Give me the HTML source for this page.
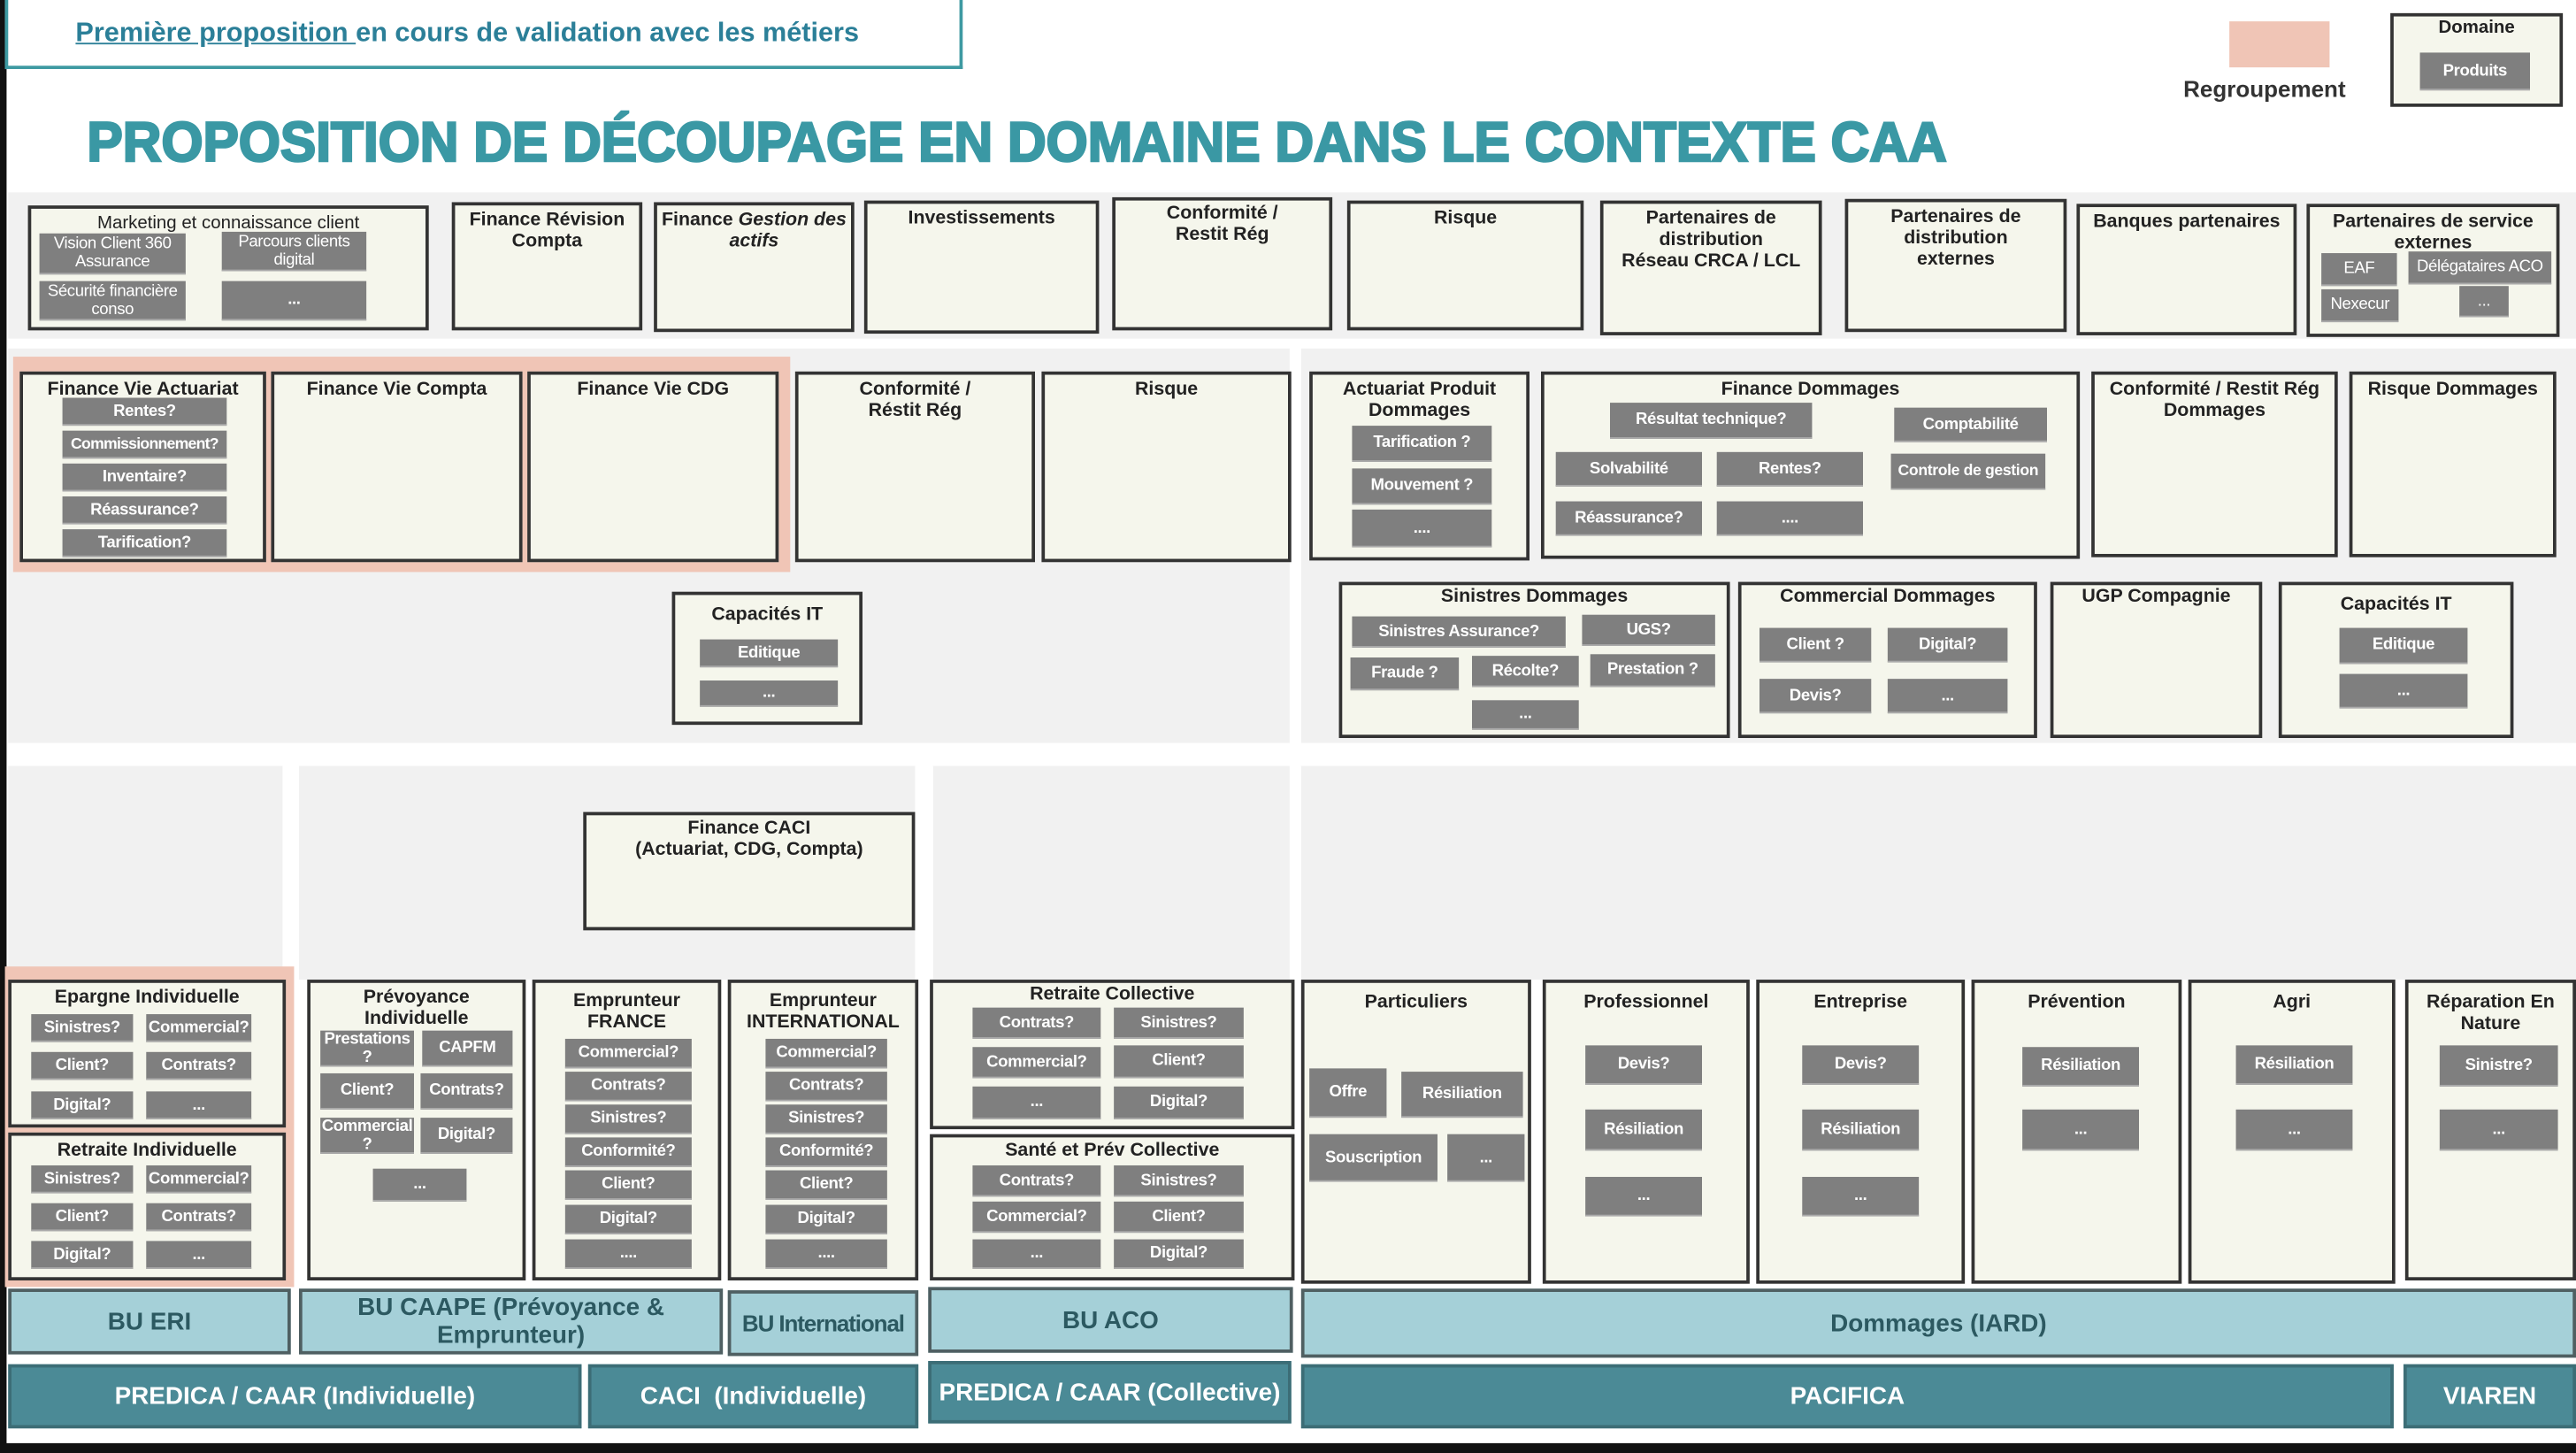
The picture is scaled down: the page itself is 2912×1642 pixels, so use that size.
<!DOCTYPE html>
<html><head><meta charset="utf-8">
<style>
html,body{margin:0;padding:0;background:#fff;width:2912px;height:1642px;overflow:hidden}
#w{position:absolute;left:0;top:0;width:1568px;height:884px;transform:scale(1.85714,1.8575);transform-origin:0 0;font-family:"Liberation Sans",Arial,sans-serif;background:#fff}
#w div{position:absolute;box-sizing:border-box}
.p{background:#f1f1f1}
.b{border:2px solid #333;background:#f5f6ec;text-align:center;font-weight:bold;font-size:11.5px;line-height:13px;color:#222;padding-top:3px}
.c{background:#7f7f7f;color:#fff;font-size:10px;line-height:11px;display:flex;align-items:center;justify-content:center;text-align:center;font-weight:bold;border-bottom:1px solid #aaa;white-space:nowrap;letter-spacing:-0.2px}
.bu{background:#a5d0d8;border:2px solid #4f5f62;color:#2c5961;font-weight:bold;font-size:15px;line-height:17px;display:flex;align-items:center;justify-content:center;text-align:center}
.en{background:#4b8a96;border:2px solid #3c6d76;color:#fff;font-weight:bold;font-size:15px;display:flex;align-items:center;justify-content:center}
.sal{background:#f0c5b6}
</style></head><body><div id="w">
<div style="left:0;top:0;width:4px;height:884px;background:#111"></div>
<div style="left:0;top:878px;width:1568px;height:6px;background:#111"></div>

<div style="left:3px;top:0;width:583px;height:42px;border:2px solid #3e9aa2;border-top:none;background:#fff"></div>
<div style="left:46px;top:11px;font-size:16.5px;font-weight:bold;color:#2b7f98;white-space:nowrap"><span style="text-decoration:underline">Première proposition </span>en cours de validation avec les métiers</div>
<svg style="position:absolute;left:0;top:60px" width="1250" height="50"><text x="53" y="38" font-family="Liberation Sans, Arial, sans-serif" font-weight="bold" font-size="34" fill="#3a98a4" stroke="#3a98a4" stroke-width="1.4" textLength="1132" lengthAdjust="spacingAndGlyphs">PROPOSITION DE DÉCOUPAGE EN DOMAINE DANS LE CONTEXTE CAA</text></svg>

<div class="sal" style="left:1357px;top:13px;width:61px;height:28px"></div>
<div style="left:1329px;top:46px;font-size:14px;font-weight:bold;color:#333;white-space:nowrap">Regroupement</div>
<div class="b" style="left:1455px;top:8px;width:105px;height:57px;font-size:11px;padding-top:1px">Domaine</div>
<div class="c" style="left:1473px;top:32px;width:67px;height:23px">Produits</div>

<!-- top panel -->
<div class="p" style="left:5px;top:117px;width:1563px;height:89px"></div>
<div class="b" style="left:17px;top:125px;width:244px;height:76px;font-weight:normal;font-size:11px">Marketing et connaissance client</div>
<div class="c" style="left:24px;top:142px;width:89px;height:25px;font-weight:normal;white-space:normal">Vision Client 360 Assurance</div>
<div class="c" style="left:135px;top:141px;width:88px;height:24px;font-weight:normal;white-space:normal">Parcours clients digital</div>
<div class="c" style="left:24px;top:171px;width:89px;height:24px;font-weight:normal;white-space:normal">Sécurité financière conso</div>
<div class="c" style="left:135px;top:171px;width:88px;height:24px">...</div>
<div class="b" style="left:275px;top:123px;width:116px;height:78px">Finance Révision<br>Compta</div>
<div class="b" style="left:398px;top:123px;width:122px;height:79px">Finance <i>Gestion des actifs</i></div>
<div class="b" style="left:526px;top:122px;width:143px;height:81px">Investissements</div>
<div class="b" style="left:677px;top:120px;width:134px;height:81px;padding-top:2px">Conformité /<br>Restit Rég</div>
<div class="b" style="left:820px;top:122px;width:144px;height:79px">Risque</div>
<div class="b" style="left:974px;top:122px;width:135px;height:82px">Partenaires de<br>distribution<br>Réseau CRCA / LCL</div>
<div class="b" style="left:1123px;top:121px;width:135px;height:81px">Partenaires de<br>distribution<br>externes</div>
<div class="b" style="left:1264px;top:124px;width:134px;height:80px">Banques partenaires</div>
<div class="b" style="left:1404px;top:124px;width:154px;height:81px">Partenaires de service<br>externes</div>
<div class="c" style="left:1413px;top:154px;width:46px;height:20px;font-weight:normal">EAF</div>
<div class="c" style="left:1466px;top:153px;width:87px;height:20px;font-weight:normal">Délégataires ACO</div>
<div class="c" style="left:1413px;top:176px;width:47px;height:20px;font-weight:normal">Nexecur</div>
<div class="c" style="left:1497px;top:174px;width:30px;height:19px;font-weight:normal">...</div>

<!-- second panels -->
<div class="p" style="left:5px;top:212px;width:780px;height:240px"></div>
<div class="p" style="left:792px;top:212px;width:776px;height:240px"></div>
<div class="sal" style="left:8px;top:217px;width:473px;height:131px"></div>
<div class="b" style="left:12px;top:226px;width:150px;height:116px">Finance Vie Actuariat</div>
<div class="c" style="left:38px;top:242px;width:100px;height:17px">Rentes?</div>
<div class="c" style="left:38px;top:262px;width:100px;height:17px;font-size:9.5px;letter-spacing:-0.4px">Commissionnement?</div>
<div class="c" style="left:38px;top:282px;width:100px;height:17px">Inventaire?</div>
<div class="c" style="left:38px;top:302px;width:100px;height:17px">Réassurance?</div>
<div class="c" style="left:38px;top:322px;width:100px;height:17px">Tarification?</div>
<div class="b" style="left:165px;top:226px;width:153px;height:116px">Finance Vie Compta</div>
<div class="b" style="left:321px;top:226px;width:153px;height:116px">Finance Vie CDG</div>
<div class="b" style="left:484px;top:226px;width:146px;height:116px">Conformité /<br>Réstit Rég</div>
<div class="b" style="left:634px;top:226px;width:152px;height:116px">Risque</div>
<div class="b" style="left:409px;top:360px;width:116px;height:81px;padding-top:6px">Capacités IT</div>
<div class="c" style="left:426px;top:389px;width:84px;height:17px">Editique</div>
<div class="c" style="left:426px;top:414px;width:84px;height:16px">...</div>

<div class="b" style="left:797px;top:226px;width:134px;height:115px">Actuariat Produit<br>Dommages</div>
<div class="c" style="left:823px;top:259px;width:85px;height:22px">Tarification ?</div>
<div class="c" style="left:823px;top:285px;width:85px;height:22px">Mouvement ?</div>
<div class="c" style="left:823px;top:310px;width:85px;height:23px">....</div>
<div class="b" style="left:938px;top:226px;width:328px;height:114px">Finance Dommages</div>
<div class="c" style="left:980px;top:245px;width:123px;height:22px">Résultat technique?</div>
<div class="c" style="left:1153px;top:248px;width:93px;height:21px">Comptabilité</div>
<div class="c" style="left:947px;top:275px;width:89px;height:21px">Solvabilité</div>
<div class="c" style="left:1045px;top:275px;width:89px;height:21px">Rentes?</div>
<div class="c" style="left:1151px;top:276px;width:94px;height:22px;font-size:9.5px">Controle de gestion</div>
<div class="c" style="left:947px;top:305px;width:89px;height:21px">Réassurance?</div>
<div class="c" style="left:1045px;top:305px;width:89px;height:21px">....</div>
<div class="b" style="left:1273px;top:226px;width:150px;height:113px">Conformité / Restit Rég<br>Dommages</div>
<div class="b" style="left:1430px;top:226px;width:126px;height:113px">Risque Dommages</div>
<div class="b" style="left:815px;top:354px;width:238px;height:95px;padding-top:1px">Sinistres Dommages</div>
<div class="c" style="left:823px;top:375px;width:130px;height:19px">Sinistres Assurance?</div>
<div class="c" style="left:963px;top:374px;width:81px;height:19px">UGS?</div>
<div class="c" style="left:822px;top:400px;width:66px;height:20px">Fraude ?</div>
<div class="c" style="left:896px;top:399px;width:65px;height:19px">Récolte?</div>
<div class="c" style="left:968px;top:398px;width:76px;height:20px">Prestation ?</div>
<div class="c" style="left:896px;top:426px;width:65px;height:18px">...</div>
<div class="b" style="left:1058px;top:354px;width:182px;height:95px;padding-top:1px">Commercial Dommages</div>
<div class="c" style="left:1071px;top:382px;width:68px;height:21px">Client ?</div>
<div class="c" style="left:1149px;top:382px;width:73px;height:21px">Digital?</div>
<div class="c" style="left:1071px;top:413px;width:68px;height:21px">Devis?</div>
<div class="c" style="left:1149px;top:413px;width:73px;height:21px">...</div>
<div class="b" style="left:1248px;top:354px;width:129px;height:95px;padding-top:1px">UGP Compagnie</div>
<div class="b" style="left:1387px;top:354px;width:143px;height:95px;padding-top:6px">Capacités IT</div>
<div class="c" style="left:1424px;top:382px;width:78px;height:22px">Editique</div>
<div class="c" style="left:1424px;top:410px;width:78px;height:21px">...</div>

<!-- bottom panels -->
<div class="p" style="left:5px;top:466px;width:167px;height:124px"></div>
<div class="p" style="left:182px;top:466px;width:375px;height:130px"></div>
<div class="p" style="left:568px;top:466px;width:217px;height:130px"></div>
<div class="p" style="left:792px;top:466px;width:776px;height:130px"></div>
<div class="b" style="left:355px;top:494px;width:202px;height:72px;padding-top:2px">Finance CACI<br>(Actuariat, CDG, Compta)</div>

<div class="sal" style="left:3px;top:588px;width:176px;height:195px"></div>
<div class="b" style="left:5px;top:596px;width:169px;height:90px">Epargne Individuelle</div>
<div class="c" style="left:19px;top:617px;width:62px;height:17px">Sinistres?</div>
<div class="c" style="left:89px;top:617px;width:64px;height:17px">Commercial?</div>
<div class="c" style="left:19px;top:640px;width:62px;height:17px">Client?</div>
<div class="c" style="left:89px;top:640px;width:64px;height:17px">Contrats?</div>
<div class="c" style="left:19px;top:664px;width:62px;height:17px">Digital?</div>
<div class="c" style="left:89px;top:664px;width:64px;height:17px">...</div>
<div class="b" style="left:5px;top:689px;width:169px;height:90px">Retraite Individuelle</div>
<div class="c" style="left:19px;top:709px;width:62px;height:17px">Sinistres?</div>
<div class="c" style="left:89px;top:709px;width:64px;height:17px">Commercial?</div>
<div class="c" style="left:19px;top:732px;width:62px;height:17px">Client?</div>
<div class="c" style="left:89px;top:732px;width:64px;height:17px">Contrats?</div>
<div class="c" style="left:19px;top:755px;width:62px;height:17px">Digital?</div>
<div class="c" style="left:89px;top:755px;width:64px;height:17px">...</div>

<div class="b" style="left:187px;top:596px;width:133px;height:183px">Prévoyance<br>Individuelle</div>
<div class="c" style="left:195px;top:627px;width:57px;height:22px;white-space:normal">Prestations ?</div>
<div class="c" style="left:257px;top:627px;width:55px;height:22px">CAPFM</div>
<div class="c" style="left:195px;top:653px;width:57px;height:22px">Client?</div>
<div class="c" style="left:256px;top:653px;width:56px;height:22px">Contrats?</div>
<div class="c" style="left:195px;top:680px;width:57px;height:22px;white-space:normal">Commercial ?</div>
<div class="c" style="left:256px;top:680px;width:56px;height:22px">Digital?</div>
<div class="c" style="left:227px;top:711px;width:57px;height:20px">...</div>

<div class="b" style="left:324px;top:596px;width:115px;height:183px;padding-top:5px">Emprunteur<br>FRANCE</div>
<div class="c" style="left:344px;top:632px;width:77px;height:18px">Commercial?</div>
<div class="c" style="left:344px;top:652px;width:77px;height:18px">Contrats?</div>
<div class="c" style="left:344px;top:672px;width:77px;height:18px">Sinistres?</div>
<div class="c" style="left:344px;top:692px;width:77px;height:18px">Conformité?</div>
<div class="c" style="left:344px;top:712px;width:77px;height:18px">Client?</div>
<div class="c" style="left:344px;top:733px;width:77px;height:18px">Digital?</div>
<div class="c" style="left:344px;top:754px;width:77px;height:18px">....</div>
<div class="b" style="left:443px;top:596px;width:116px;height:183px;padding-top:5px">Emprunteur<br>INTERNATIONAL</div>
<div class="c" style="left:466px;top:632px;width:74px;height:18px">Commercial?</div>
<div class="c" style="left:466px;top:652px;width:74px;height:18px">Contrats?</div>
<div class="c" style="left:466px;top:672px;width:74px;height:18px">Sinistres?</div>
<div class="c" style="left:466px;top:692px;width:74px;height:18px">Conformité?</div>
<div class="c" style="left:466px;top:712px;width:74px;height:18px">Client?</div>
<div class="c" style="left:466px;top:733px;width:74px;height:18px">Digital?</div>
<div class="c" style="left:466px;top:754px;width:74px;height:18px">....</div>

<div class="b" style="left:566px;top:596px;width:222px;height:91px;padding-top:1px">Retraite Collective</div>
<div class="c" style="left:592px;top:613px;width:78px;height:19px">Contrats?</div>
<div class="c" style="left:678px;top:613px;width:79px;height:19px">Sinistres?</div>
<div class="c" style="left:592px;top:637px;width:78px;height:19px">Commercial?</div>
<div class="c" style="left:678px;top:636px;width:79px;height:20px">Client?</div>
<div class="c" style="left:592px;top:661px;width:78px;height:20px">...</div>
<div class="c" style="left:678px;top:661px;width:79px;height:20px">Digital?</div>
<div class="b" style="left:566px;top:690px;width:222px;height:89px;padding-top:2px">Santé et Prév Collective</div>
<div class="c" style="left:592px;top:709px;width:78px;height:19px">Contrats?</div>
<div class="c" style="left:678px;top:709px;width:79px;height:19px">Sinistres?</div>
<div class="c" style="left:592px;top:731px;width:78px;height:19px">Commercial?</div>
<div class="c" style="left:678px;top:731px;width:79px;height:19px">Client?</div>
<div class="c" style="left:592px;top:754px;width:78px;height:18px">...</div>
<div class="c" style="left:678px;top:754px;width:79px;height:18px">Digital?</div>

<div class="b" style="left:792px;top:596px;width:140px;height:185px;padding-top:6px">Particuliers</div>
<div class="c" style="left:797px;top:650px;width:47px;height:30px">Offre</div>
<div class="c" style="left:853px;top:652px;width:74px;height:28px">Résiliation</div>
<div class="c" style="left:797px;top:690px;width:78px;height:29px">Souscription</div>
<div class="c" style="left:881px;top:690px;width:47px;height:29px">...</div>
<div class="b" style="left:939px;top:596px;width:126px;height:185px;padding-top:6px">Professionnel</div>
<div class="c" style="left:965px;top:636px;width:71px;height:24px">Devis?</div>
<div class="c" style="left:965px;top:675px;width:71px;height:25px">Résiliation</div>
<div class="c" style="left:965px;top:716px;width:71px;height:24px">...</div>
<div class="b" style="left:1069px;top:596px;width:127px;height:185px;padding-top:6px">Entreprise</div>
<div class="c" style="left:1097px;top:636px;width:71px;height:24px">Devis?</div>
<div class="c" style="left:1097px;top:675px;width:71px;height:25px">Résiliation</div>
<div class="c" style="left:1097px;top:716px;width:71px;height:24px">...</div>
<div class="b" style="left:1200px;top:596px;width:128px;height:185px;padding-top:6px">Prévention</div>
<div class="c" style="left:1231px;top:637px;width:71px;height:24px">Résiliation</div>
<div class="c" style="left:1231px;top:675px;width:71px;height:25px">...</div>
<div class="b" style="left:1332px;top:596px;width:126px;height:185px;padding-top:6px">Agri</div>
<div class="c" style="left:1361px;top:636px;width:71px;height:24px">Résiliation</div>
<div class="c" style="left:1361px;top:675px;width:71px;height:25px">...</div>
<div class="b" style="left:1464px;top:596px;width:104px;height:183px;padding-top:6px">Réparation En<br>Nature</div>
<div class="c" style="left:1485px;top:636px;width:72px;height:25px">Sinistre?</div>
<div class="c" style="left:1485px;top:675px;width:72px;height:25px">...</div>

<!-- BU row -->
<div class="bu" style="left:5px;top:784px;width:172px;height:40px">BU ERI</div>
<div class="bu" style="left:182px;top:784px;width:258px;height:40px">BU CAAPE (Prévoyance &amp;<br>Emprunteur)</div>
<div class="bu" style="left:443px;top:785px;width:116px;height:40px;font-size:14px;white-space:nowrap;letter-spacing:-0.6px">BU International</div>
<div class="bu" style="left:565px;top:783px;width:222px;height:40px">BU ACO</div>
<div class="bu" style="left:792px;top:784px;width:776px;height:42px">Dommages (IARD)</div>

<!-- entity row -->
<div class="en" style="left:5px;top:830px;width:349px;height:39px">PREDICA / CAAR (Individuelle)</div>
<div class="en" style="left:358px;top:830px;width:201px;height:39px">CACI &nbsp;(Individuelle)</div>
<div class="en" style="left:565px;top:828px;width:221px;height:38px">PREDICA / CAAR (Collective)</div>
<div class="en" style="left:792px;top:830px;width:665px;height:39px">PACIFICA</div>
<div class="en" style="left:1463px;top:830px;width:105px;height:39px">VIAREN</div>
</div></body></html>
